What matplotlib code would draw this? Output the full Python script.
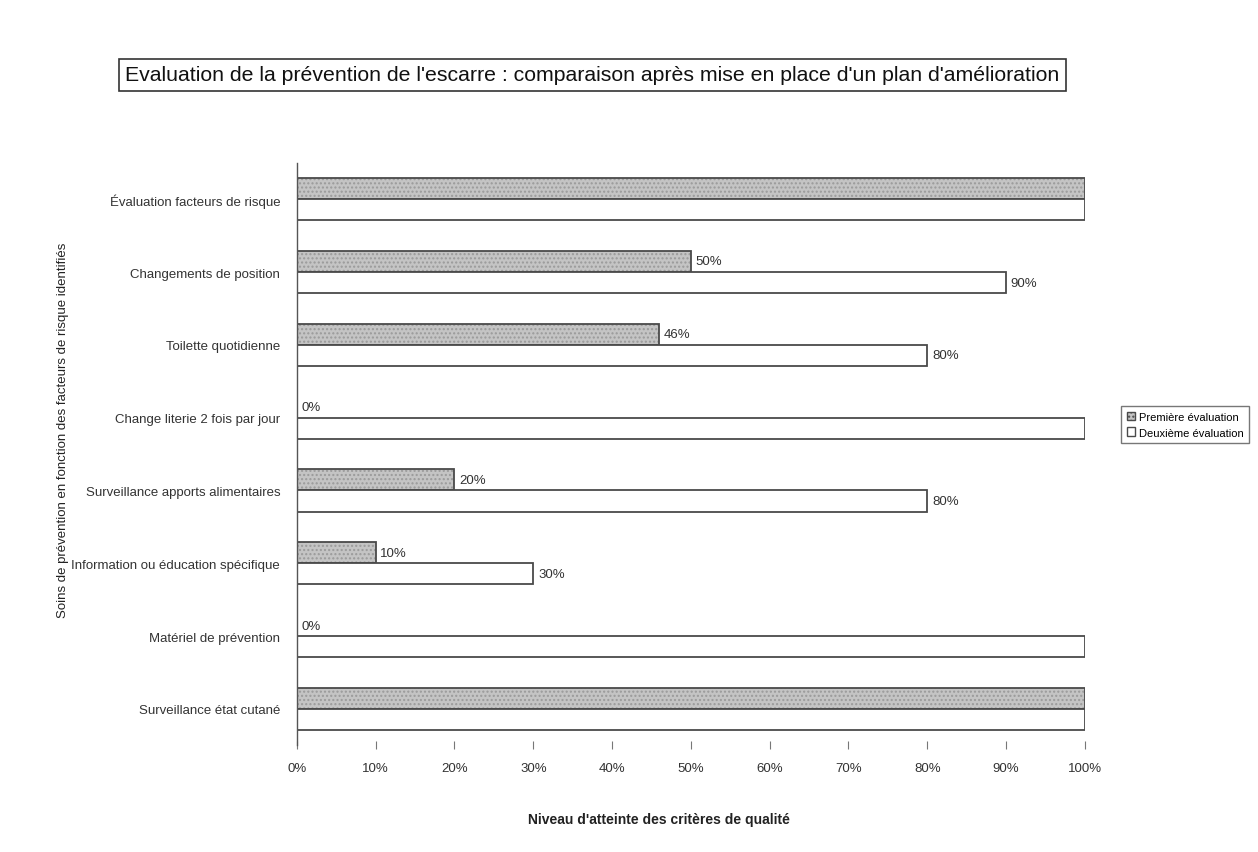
import matplotlib
matplotlib.use("Agg")
import matplotlib.pyplot as plt
from matplotlib.patches import Patch

plt.rcParams['font.family'] = ['Liberation Sans Narrow', 'Liberation Sans', 'DejaVu Sans']

categories = [
    "Évaluation facteurs de risque",
    "Changements de position",
    "Toilette quotidienne",
    "Change literie 2 fois par jour",
    "Surveillance apports alimentaires",
    "Information ou éducation spécifique",
    "Matériel de prévention",
    "Surveillance état cutané",
]
premiere = [100, 50, 46, 0, 20, 10, 0, 100]
deuxieme = [100, 90, 80, 100, 80, 30, 100, 100]
series_names = ["Première évaluation", "Deuxième évaluation"]
xticks = [0, 10, 20, 30, 40, 50, 60, 70, 80, 90, 100]

fig = plt.figure(figsize=(12.58, 8.53), dpi=100)
ax = fig.add_axes((0.236, 0.125, 0.6264, 0.683))

edge = "#4a4a4a"
h = 0.29
pos = list(range(len(categories)))
y1 = [p - h / 2 for p in pos]
y2 = [p + h / 2 for p in pos]

# first evaluation : grey dotted fill, then outline on top
ax.barh(y1, premiere, height=h, color="#c4c4c4", edgecolor="#9a9a9a",
        hatch="....", linewidth=0)
ax.barh(y1, premiere, height=h, fill=False, edgecolor=edge, linewidth=1.3)
ax.barh(y2, deuxieme, height=h, color="white", edgecolor=edge, linewidth=1.3)

for y, v in zip(y1 + y2, premiere + deuxieme):
    if v < 100:
        ax.text(v + 0.6, y, f"{v}%", va="center", ha="left", fontsize=9.5,
                color="#333333")

ax.set_xlim(0, 100)
ax.set_ylim(len(categories) - 0.5, -0.5)
ax.set_yticks(pos)
ax.set_yticklabels(categories, fontsize=9.5, color="#333333")
ax.tick_params(axis="y", length=0, pad=12)
ax.set_xticks(xticks)
ax.set_xticklabels([f"{t}%" for t in xticks], fontsize=9.5, color="#333333")
ax.tick_params(axis="x", length=6, direction="inout", color="#777777", pad=9)

for s in ["top", "right", "bottom"]:
    ax.spines[s].set_visible(False)
ax.spines["left"].set_color("#555555")
ax.spines["left"].set_linewidth(1.0)

ax.set_xlabel("Niveau d'atteinte des critères de qualité", fontsize=10,
              fontweight="bold", color="#222222")
ax.xaxis.set_label_coords(0.459, -0.115)
ax.set_ylabel("Soins de prévention en fonction des facteurs de risque identifiés",
              fontsize=9.5, color="#222222")
ax.yaxis.set_label_coords(-0.289, 0.543)

fig.text(0.4706, 0.911,
         "Evaluation de la prévention de l'escarre : comparaison après mise en place d'un plan d'amélioration",
         ha="center", va="center", fontsize=15.3, color="#111111",
         bbox=dict(boxstyle="square,pad=0.3", facecolor="white",
                   edgecolor="#333333", linewidth=1.2))

handles = [
    Patch(facecolor="#c4c4c4", edgecolor=edge, hatch="...."),
    Patch(facecolor="white", edgecolor=edge),
]
fig.legend(handles, series_names, loc="center", bbox_to_anchor=(0.942, 0.501),
           fontsize=8, frameon=True, fancybox=False, edgecolor="#555555",
           handlelength=0.8, handleheight=0.8, handletextpad=0.3,
           borderpad=0.5, labelspacing=0.5)

fig.savefig("out.png", dpi=100, facecolor="white")
